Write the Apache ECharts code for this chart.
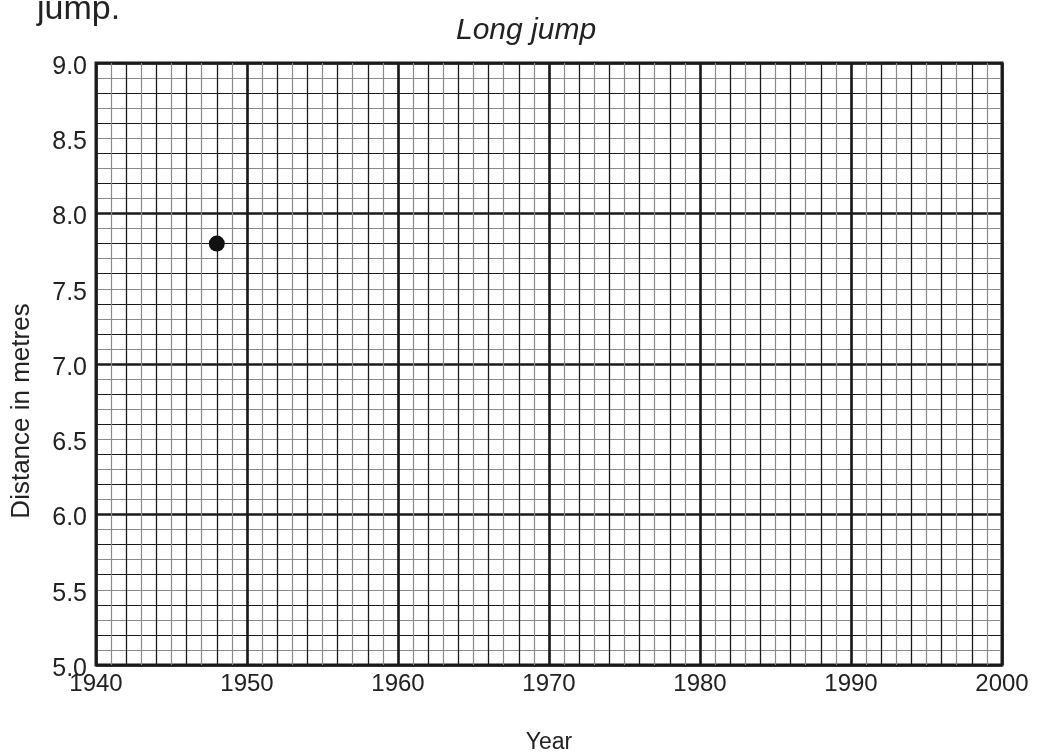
<!DOCTYPE html>
<html><head><meta charset="utf-8">
<script src="https://cdn.jsdelivr.net/npm/echarts@6/dist/echarts.min.js"></script>
<style>html,body{margin:0;padding:0;background:#fff}#c{width:1037px;height:754px}</style>
</head><body><div id="c"></div>
<script>
const years = [1948];
const distances = [7.8];
const xMin = 1940, xMax = 2000;
const yMin = 5.0, yMax = 9.0;
const titleText = 'Long jump';
const headText = 'jump.';
const xName = 'Year';
const yName = 'Distance in metres';

const FONT = 'Liberation Sans, Arial, sans-serif';
const chart = echarts.init(document.getElementById('c'));
function xa(interval, color, width, labels) {
  return {type:'value', min:xMin, max:xMax, interval:interval, gridIndex:0, position:'bottom', offset:0,
    axisLine:{show:false}, axisTick:{show:false},
    axisLabel:{show:!!labels, fontSize:24, color:'#222', fontFamily:FONT, margin:7, formatter:v=>String(v)},
    splitLine:{show:!!color, lineStyle:{color:color||'#000', width:width||1}}};
}
function ya(interval, color, width, labels) {
  return {type:'value', min:yMin, max:yMax, interval:interval, gridIndex:0, position:'left', offset:0,
    axisLine:{show:false}, axisTick:{show:false},
    axisLabel:{show:!!labels, fontSize:25, color:'#222', fontFamily:FONT, margin:9,
      verticalAlign:'top', lineHeight:8,
      formatter:v=>v.toFixed(1)},
    splitLine:{show:!!color, lineStyle:{color:color||'#000', width:width||1}}};
}
const xAxes = [xa(1,'#8a8a8a',1.2), xa(2,'#1a1a1a',1.2), xa(10,'#1a1a1a',2.6,true)];
const yAxes = [ya(0.1,'#8a8a8a',1.2), ya(0.2,'#1a1a1a',1.2), ya(1,'#1a1a1a',2.6), ya(0.5,null,0,true)];
xAxes[2].name = xName; xAxes[2].nameLocation='middle'; xAxes[2].nameGap=66;
xAxes[2].nameTextStyle={fontSize:23,color:'#222',fontFamily:FONT};

chart.setOption({
  animation:false,
  title:[
    {text:titleText, left:451, top:11, textStyle:{fontSize:30, fontStyle:'italic', fontWeight:'normal', color:'#222', fontFamily:FONT}},
    {text:headText, left:32, top:-12, textStyle:{fontSize:34, fontWeight:'normal', color:'#222', fontFamily:FONT}}
  ],
  graphic:[{type:'text', x:22, y:411, rotation:Math.PI/2,
    style:{text:yName, fontSize:26, fill:'#222', fontFamily:FONT, align:'center', verticalAlign:'middle'}}],
  grid:{left:96, top:63, right:35, bottom:89, containLabel:false, outerBoundsMode:'none', show:true, borderColor:'#1a1a1a', borderWidth:3, backgroundColor:'transparent'},
  xAxis: xAxes,
  yAxis: yAxes,
  series:[{type:'scatter', xAxisIndex:2, yAxisIndex:3, symbol:'circle', symbolSize:16,
    itemStyle:{color:'#111', opacity:1}, data: years.map((y,i)=>[y, distances[i]]), z:10}]
});
</script></body></html>
